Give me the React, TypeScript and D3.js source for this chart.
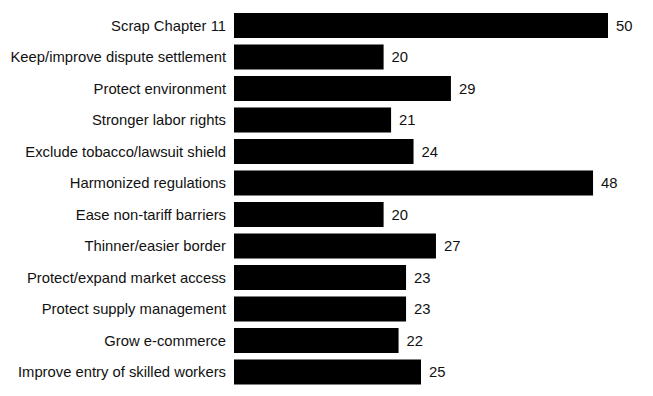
import React from 'react';
import * as d3 from 'd3';

const categories = [
  'Scrap Chapter 11',
  'Keep/improve dispute settlement',
  'Protect environment',
  'Stronger labor rights',
  'Exclude tobacco/lawsuit shield',
  'Harmonized regulations',
  'Ease non-tariff barriers',
  'Thinner/easier border',
  'Protect/expand market access',
  'Protect supply management',
  'Grow e-commerce',
  'Improve entry of skilled workers',
];
const values = [50, 20, 29, 21, 24, 48, 20, 27, 23, 23, 22, 25];

const width = 653;
const height = 396;

const App = () => {
  // scales
  const x = d3.scaleLinear().domain([0, 50]).range([234, 608]);
  const y = d3
    .scaleBand<string>()
    .domain(categories)
    .range([9.75, 387.75])
    .paddingInner(0.206)
    .paddingOuter(0.103);

  const font = '"Liberation Sans", Arial, Helvetica, sans-serif';

  return (
    <svg
      width={width}
      height={height}
      style={{ position: 'absolute', left: 0, top: 0, background: '#fff' }}
    >
      {categories.map((c, i) => {
        const yy = y(c) as number;
        const mid = yy + y.bandwidth() / 2;
        return (
          <g key={c}>
            <rect
              x={x(0)}
              y={yy}
              width={x(values[i]) - x(0)}
              height={y.bandwidth()}
              fill="#000"
            />
            <text
              x={226}
              y={mid}
              dy="0.35em"
              textAnchor="end"
              fontFamily={font}
              fontSize={14.8}
              fill="#111"
            >
              {c}
            </text>
            <text
              x={x(values[i]) + 8}
              y={mid}
              dy="0.35em"
              fontFamily={font}
              fontSize={14.8}
              fill="#111"
            >
              {values[i]}
            </text>
          </g>
        );
      })}
    </svg>
  );
};

export default App;
